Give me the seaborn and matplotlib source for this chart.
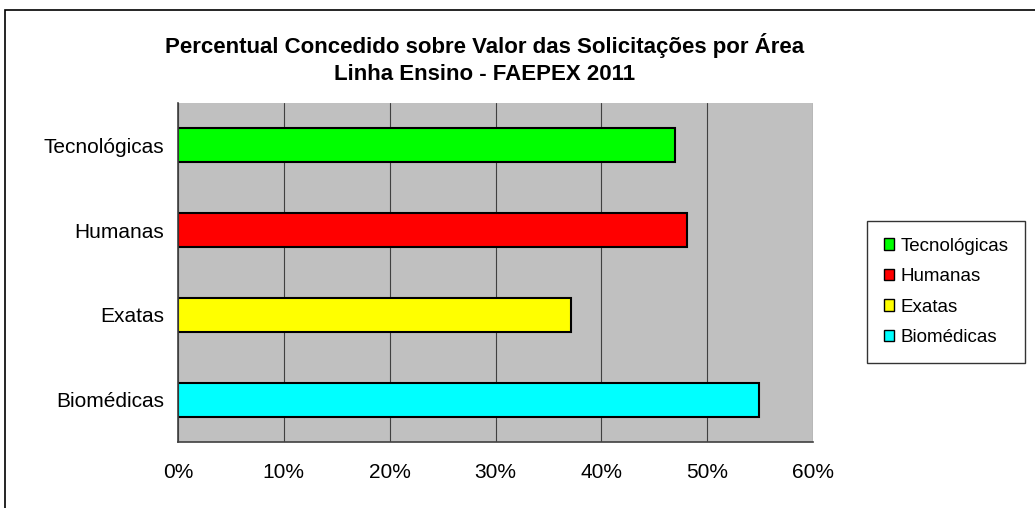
import pandas as pd
import matplotlib.pyplot as plt
import seaborn as sns
from matplotlib.patches import Rectangle, Patch
from matplotlib.ticker import PercentFormatter

# Data
areas = ["Tecnológicas", "Humanas", "Exatas", "Biomédicas"]
percentual = [0.470, 0.481, 0.371, 0.549]
cores = ["#00FF00", "#FF0000", "#FFFF00", "#00FFFF"]

df = pd.DataFrame({"Area": areas, "Percentual": percentual})

sns.set_style("white")
plt.rcParams['font.family'] = ['Liberation Sans', 'DejaVu Sans']
plt.rcParams['text.color'] = 'black'
plt.rcParams['xtick.color'] = 'black'
plt.rcParams['ytick.color'] = 'black'

fig = plt.figure(figsize=(10.35, 5.08), dpi=100)
ax = fig.add_axes([178 / 1035, 1 - 442 / 508, (813 - 178) / 1035, (442 - 103) / 508])

sns.barplot(data=df, y="Area", x="Percentual", hue="Area", order=areas,
            hue_order=areas, palette=dict(zip(areas, cores)), orient="h",
            width=0.4, dodge=False, saturation=1, edgecolor="black",
            linewidth=1.5, legend=False, ax=ax)

ax.set_facecolor("#C0C0C0")
ax.set_xlim(0, 0.6)
ax.set_ylim(3.5, -0.5)
ax.set_xticks([0, 0.1, 0.2, 0.3, 0.4, 0.5, 0.6])
ax.xaxis.set_major_formatter(PercentFormatter(1.0, decimals=0))
ax.grid(axis="x", color="#404040", linewidth=0.8)
ax.set_axisbelow(True)
ax.set_xlabel("")
ax.set_ylabel("")

for s in ["top", "right"]:
    ax.spines[s].set_visible(False)
for s in ["left", "bottom"]:
    ax.spines[s].set_color("#404040")
    ax.spines[s].set_linewidth(1.2)

ax.tick_params(axis="y", which="major", length=0, labelsize=15, pad=10)
ax.set_yticks([-0.5, 0.5, 1.5, 2.5, 3.5], minor=True)
ax.tick_params(axis="y", which="minor", length=5, color="#404040", direction="out")
ax.tick_params(axis="x", length=5, color="#404040", direction="out", labelsize=15, pad=10)

# Title
fig.text(485 / 1035, 1 - 45 / 508, "Percentual Concedido sobre Valor das Solicitações por Área",
         ha="center", va="center", fontsize=16, fontweight="bold")
fig.text(485 / 1035, 1 - 75 / 508, "Linha Ensino - FAEPEX 2011",
         ha="center", va="center", fontsize=16, fontweight="bold")

# Legend
handles = [Patch(facecolor=c, edgecolor="black", linewidth=1) for c in cores]
leg = fig.legend(handles, areas, loc="center", bbox_to_anchor=(946 / 1035, 1 - 292 / 508),
                 fontsize=13.5, frameon=True, fancybox=False, edgecolor="black",
                 handlelength=0.55, handleheight=0.55, handletextpad=0.35,
                 labelspacing=0.72, borderpad=0.9, borderaxespad=0)
leg.get_frame().set_linewidth(1)

# Outer border
fig.patches.append(Rectangle((5 / 1035, -0.1), 1.2, 1 - 10 / 508 + 0.1,
                             transform=fig.transFigure, fill=False,
                             edgecolor="black", linewidth=1.2))

fig.savefig("out.png", dpi=100)
